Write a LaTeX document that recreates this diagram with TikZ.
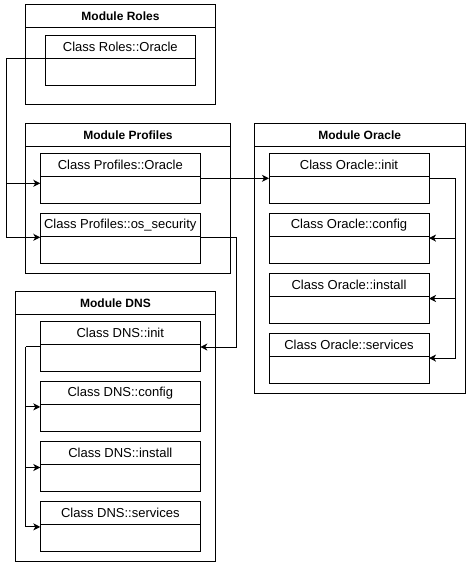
\documentclass[tikz,border=0pt]{standalone}
\usepackage{fontspec}
\setmainfont{Liberation Sans}
\usetikzlibrary{arrows.meta}
\tikzset{
  box/.style={draw=black, fill=white, line width=1pt, inner sep=0pt, outer sep=0pt, anchor=north west},
  modhead/.style={box, font=\fontsize{12}{14}\selectfont\bfseries, minimum height=23pt},
  clshead/.style={box, font=\fontsize{13}{15}\selectfont, minimum width=160pt, minimum height=23pt},
  clsbody/.style={box, minimum width=160pt, minimum height=27pt},
  conn/.style={draw=black, line width=1pt},
  arr/.style={conn, -{Stealth[length=7pt,width=7pt,inset=2pt]}}
}
\newcommand{\mymodule}[6]{% name x y width bodyheight title
  \node[modhead, minimum width=#4 pt] (#1) at (#2,#3) {#6};
  \node[box, minimum width=#4 pt, minimum height=#5 pt] (#1-b) at (#1.south west) {};
}
\newcommand{\myclass}[5]{% name x y title width
  \node[clshead, minimum width=#5 pt] (#1) at (#2,#3) {#4};
  \node[clsbody, minimum width=#5 pt] (#1-b) at (#1.south west) {};
}
\begin{document}
\begin{tikzpicture}[x=1pt,y=-1pt]
\useasboundingbox[fill=white] (0,0) rectangle (470,567);
% modules
\mymodule{mroles}{25.5}{5}{190}{77}{Module Roles}
\mymodule{mprof}{25.5}{123.3}{205}{127}{Module Profiles}
\mymodule{mdns}{15.5}{291.5}{200}{247}{Module DNS}
\mymodule{morc}{254.5}{123.3}{210.5}{247}{Module Oracle}
% classes
\myclass{croles}{45.3}{35.3}{Class Roles::Oracle}{150}
\myclass{cprof}{40.3}{153.3}{Class Profiles::Oracle}{160}
\myclass{csec}{40.3}{213.3}{Class Profiles::os\_security}{160}
\myclass{dinit}{40.3}{321.5}{Class DNS::init}{160}
\myclass{dconf}{40.3}{381.5}{Class DNS::config}{160}
\myclass{dinst}{40.3}{441.5}{Class DNS::install}{160}
\myclass{dserv}{40.3}{501.5}{Class DNS::services}{160}
\myclass{oinit}{269}{153.3}{Class Oracle::init}{160}
\myclass{oconf}{269}{213.3}{Class Oracle::config}{160}
\myclass{oinst}{269}{273.3}{Class Oracle::install}{160}
\myclass{oserv}{269}{333.3}{Class Oracle::services}{160}
% connectors
\draw[conn] (croles-b.north west) -- ++(-39.3,0) coordinate (rx);
\draw[arr] (rx) |- ([yshift=-7pt]cprof-b.north west);
\draw[arr] (rx) |- ([yshift=-1pt]csec-b.north west);
\draw[arr] ([yshift=-2pt]cprof-b.north east) -- ([yshift=-2pt]cprof-b.north east -| oinit-b.west);
\draw[conn] ([yshift=-1pt]csec-b.north east) -- ++(35.7,0) coordinate (sx);
\draw[arr] (sx) |- ([yshift=-2.5pt]dinit-b.north east);
\draw[conn] ([yshift=-2.3pt]dinit-b.north west) -- ++(-14.6,0) coordinate (dx);
\draw[arr] (dx) |- ([yshift=-2.4pt]dconf-b.north west);
\draw[arr] (dx) |- ([yshift=-3pt]dinst-b.north west);
\draw[arr] (dx) |- ([yshift=-2.4pt]dserv-b.north west);
\draw[conn] ([yshift=-2pt]oinit-b.north east) -- ++(26,0) coordinate (ox);
\draw[arr] (ox) |- ([yshift=-1.8pt]oconf-b.north east);
\draw[arr] (ox) |- ([yshift=-2.2pt]oinst-b.north east);
\draw[arr] (ox) |- ([yshift=-1.8pt]oserv-b.north east);
\end{tikzpicture}
\end{document}
